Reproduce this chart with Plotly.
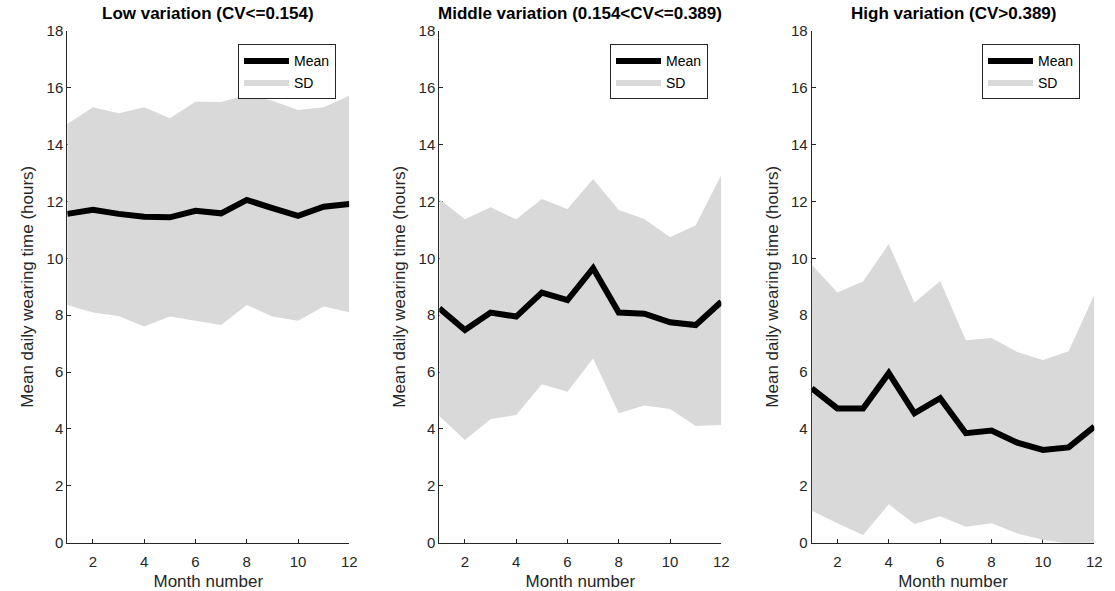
import plotly.graph_objects as go

months = list(range(1, 13))

low_mean = [11.56, 11.70, 11.56, 11.46, 11.44, 11.67, 11.58, 12.05, 11.76, 11.49, 11.81, 11.91]
low_upper = [14.72, 15.31, 15.10, 15.31, 14.92, 15.50, 15.49, 15.74, 15.54, 15.21, 15.31, 15.71]
low_lower = [8.36, 8.09, 7.97, 7.60, 7.95, 7.81, 7.65, 8.36, 7.95, 7.80, 8.30, 8.10]

mid_mean = [8.24, 7.48, 8.09, 7.95, 8.79, 8.53, 9.65, 8.09, 8.05, 7.75, 7.65, 8.47]
mid_upper = [12.08, 11.37, 11.79, 11.37, 12.08, 11.73, 12.79, 11.70, 11.38, 10.74, 11.16, 12.93]
mid_lower = [4.45, 3.61, 4.34, 4.49, 5.57, 5.31, 6.48, 4.55, 4.82, 4.70, 4.10, 4.14]

high_mean = [5.43, 4.72, 4.72, 5.96, 4.55, 5.08, 3.85, 3.94, 3.52, 3.26, 3.35, 4.08]
high_upper = [9.77, 8.80, 9.18, 10.50, 8.44, 9.20, 7.12, 7.20, 6.70, 6.42, 6.73, 8.72]
high_lower = [1.12, 0.68, 0.27, 1.35, 0.66, 0.93, 0.56, 0.68, 0.32, 0.10, -0.04, -0.56]

titles = ["Low variation (CV<=0.154)",
          "Middle variation (0.154<CV<=0.389)",
          "High variation (CV>0.389)"]
x_ticks = [2, 4, 6, 8, 10, 12]
y_ticks = [0, 2, 4, 6, 8, 10, 12, 14, 16, 18]
x_label = "Month number"
y_label = "Mean daily wearing time (hours)"

panels = [(low_mean, low_upper, low_lower),
          (mid_mean, mid_upper, mid_lower),
          (high_mean, high_upper, high_lower)]

W, H = 1115, 591
x_domains = [[67.3 / W, 349.3 / W], [439.3 / W, 721.3 / W], [811.7 / W, 1094.3 / W]]
y_domain = [48.3 / H, 560.3 / H]
legend_right = [336 / W, 708 / W, 1080 / W]

FONT = "Liberation Sans, Arial, Helvetica, sans-serif"
AX = "#262626"
GRAY = "#d9d9d9"

fig = go.Figure()
layout = dict(
    width=W, height=H,
    margin=dict(l=0, r=0, t=0, b=0),
    paper_bgcolor="white", plot_bgcolor="white",
    font=dict(family=FONT, color=AX, size=15),
    annotations=[],
)

for i, (mean, upper, lower) in enumerate(panels):
    n = "" if i == 0 else str(i + 1)
    xa, ya = "x" + n, "y" + n
    lg = "legend" + n
    fig.add_trace(go.Scatter(x=months, y=lower, mode="lines", line=dict(width=0),
                             showlegend=False, hoverinfo="skip", xaxis=xa, yaxis=ya))
    fig.add_trace(go.Scatter(x=months, y=upper, mode="lines", line=dict(width=0),
                             fill="tonexty", fillcolor=GRAY, name="SD",
                             legend=lg, legendrank=2, xaxis=xa, yaxis=ya))
    fig.add_trace(go.Scatter(x=months, y=mean, mode="lines",
                             line=dict(color="black", width=6), name="Mean",
                             legend=lg, legendrank=1, xaxis=xa, yaxis=ya))

    layout["xaxis" + n] = dict(
        domain=x_domains[i], anchor=ya, range=[1, 12], tickvals=x_ticks,
        ticks="inside", ticklen=4, tickcolor=AX, tickwidth=1,
        showline=True, linecolor=AX, linewidth=1, showgrid=False, zeroline=False,
        layer="below traces", tickfont=dict(size=15, color=AX),
        ticklabelstandoff=5,
        title=dict(text=x_label, font=dict(size=17, color=AX), standoff=6),
        automargin=False,
    )
    layout["yaxis" + n] = dict(
        domain=y_domain, anchor=xa, range=[0, 18], tickvals=y_ticks,
        ticks="inside", ticklen=4, tickcolor=AX, tickwidth=1,
        showline=True, linecolor=AX, linewidth=1, showgrid=False, zeroline=False,
        layer="below traces", tickfont=dict(size=15, color=AX),
        title=dict(text=y_label, font=dict(size=17, color=AX), standoff=8),
        automargin=False,
    )
    layout[lg] = dict(
        x=legend_right[i], xanchor="right", y=(H - 44.3) / H, yanchor="top",
        bgcolor="white", bordercolor=AX, borderwidth=1,
        font=dict(size=14, color="black"), itemwidth=45,
        traceorder="normal", tracegroupgap=0,
    )
    layout["annotations"].append(dict(
        text="<b>" + titles[i] + "</b>", xref="paper", yref="paper",
        x=sum(x_domains[i]) / 2, y=(H - 14) / H, xanchor="center", yanchor="middle",
        showarrow=False, font=dict(size=17, color="black", family=FONT),
    ))

fig.update_layout(**layout)
fig.write_html("out.html", config={"displayModeBar": False},
               post_script="document.body.style.margin='0';")
